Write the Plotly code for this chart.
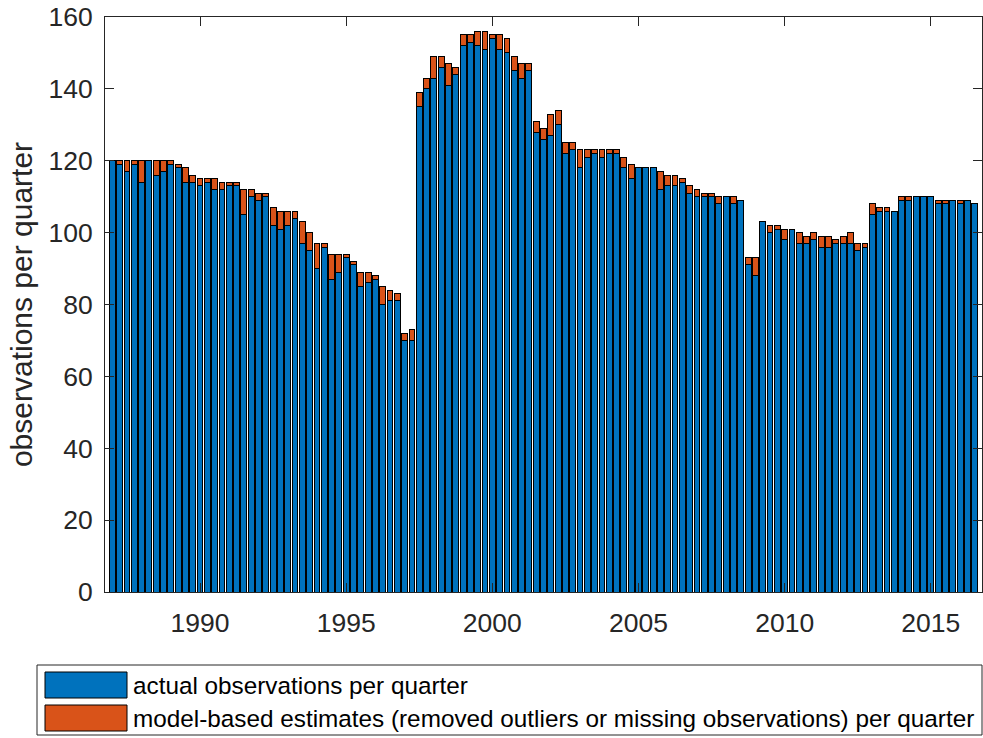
import plotly.graph_objects as go

# ---- data (quarterly, 1987Q1 .. 2016Q3) ----
start_year = 1987
actual = [120, 119, 117, 119, 114, 120, 116, 117, 119, 118, 114, 114, 113, 114, 112, 112,
          113, 113, 105, 110, 109, 110, 102, 101, 102, 104, 97, 95, 90, 96, 87, 89,
          93, 91, 85, 86, 87, 80, 81, 81, 70, 70, 135, 140, 143, 146, 141, 144,
          152, 153, 152, 151, 154, 151, 150, 145, 143, 145, 128, 126, 127, 130, 122, 123,
          118, 121, 122, 121, 122, 122, 118, 115, 118, 118, 118, 112, 113, 113, 114, 111,
          110, 110, 110, 108, 110, 108, 109, 91, 88, 103, 100, 101, 98, 101, 97, 97,
          98, 96, 96, 97, 97, 97, 95, 96, 105, 106, 106, 106, 109, 109, 110, 110,
          110, 108, 108, 109, 108, 109, 108]
estimated = [0, 1, 3, 1, 6, 0, 4, 3, 1, 1, 4, 2, 2, 1, 3, 2,
             1, 1, 7, 2, 2, 1, 5, 5, 4, 2, 6, 5, 7, 1, 7, 5,
             1, 1, 4, 3, 1, 5, 3, 2, 2, 3, 4, 3, 6, 3, 6, 2,
             3, 2, 4, 5, 1, 4, 4, 4, 4, 2, 3, 3, 6, 4, 3, 2,
             5, 2, 1, 2, 1, 1, 3, 4, 0, 0, 0, 5, 3, 3, 1, 2,
             2, 1, 1, 2, 0, 2, 0, 2, 5, 0, 2, 1, 3, 0, 3, 2,
             2, 3, 3, 1, 2, 3, 2, 1, 3, 1, 1, 0, 1, 1, 0, 0,
             0, 1, 1, 0, 1, 0, 0]
quarters = [start_year + 0.25 * i for i in range(len(actual))]
year_ticks = [1990, 1995, 2000, 2005, 2010, 2015]
y_ticks = [0, 20, 40, 60, 80, 100, 120, 140, 160]
legend_labels = ["actual observations per quarter",
                 "model-based estimates (removed outliers or missing observations) per quarter"]

BLUE = "#0072BD"
ORANGE = "#D95319"
AX = "#262626"
FONT = "Liberation Sans, Arial, Helvetica, sans-serif"

fig = go.Figure()
fig.add_trace(go.Bar(x=quarters, y=actual, width=0.2, name=legend_labels[0],
                     marker=dict(color=BLUE, line=dict(color="black", width=1)),
                     showlegend=False))
fig.add_trace(go.Bar(x=quarters, y=estimated, width=0.2, name=legend_labels[1],
                     marker=dict(color=ORANGE, line=dict(color="black", width=1)),
                     showlegend=False))

W, H = 983, 738
L, R, T, B = 105, 982, 17, 592


def px_x(p):
    return (p - L) / (R - L)


def px_y(p):
    return (B - p) / (B - T)


axis_common = dict(showline=True, linecolor=AX, linewidth=1, mirror="ticks",
                   ticks="inside", ticklen=9, tickcolor=AX, tickwidth=1,
                   showgrid=False, zeroline=False,
                   tickfont=dict(family=FONT, size=26.5, color=AX))

fig.update_layout(
    width=W, height=H,
    margin=dict(l=L, r=W - R, t=T, b=H - B),
    plot_bgcolor="white", paper_bgcolor="white",
    barmode="stack",
    font=dict(family=FONT, color=AX),
    xaxis=dict(range=[1986.75, 2016.75], tickvals=year_ticks,
               ticklabelstandoff=7, **axis_common),
    yaxis=dict(range=[0, 160], tickvals=y_ticks, ticklabelstandoff=6,
               title=dict(text="observations per quarter",
                          font=dict(family=FONT, size=30, color=AX), standoff=6),
               **axis_common),
)

# legend drawn as shapes to reproduce the wide swatches
shapes = [
    dict(type="rect", xref="paper", yref="paper",
         x0=px_x(37), x1=px_x(982), y0=px_y(735), y1=px_y(665),
         line=dict(color=AX, width=1), fillcolor="white"),
    dict(type="rect", xref="paper", yref="paper",
         x0=px_x(45), x1=px_x(127), y0=px_y(698), y1=px_y(672),
         line=dict(color="black", width=1), fillcolor=BLUE),
    dict(type="rect", xref="paper", yref="paper",
         x0=px_x(45), x1=px_x(127), y0=px_y(731), y1=px_y(705),
         line=dict(color="black", width=1), fillcolor=ORANGE),
]
annotations = [
    dict(xref="paper", yref="paper", x=px_x(131), y=px_y(685), text=legend_labels[0],
         showarrow=False, xanchor="left", yanchor="middle",
         font=dict(family=FONT, size=24.3, color="black")),
    dict(xref="paper", yref="paper", x=px_x(131), y=px_y(718), text=legend_labels[1],
         showarrow=False, xanchor="left", yanchor="middle",
         font=dict(family=FONT, size=24.3, color="black")),
]
fig.update_layout(shapes=shapes, annotations=annotations)

fig.write_html("out.html", config={"displayModeBar": False},
               post_script="document.body.style.margin='0';")
